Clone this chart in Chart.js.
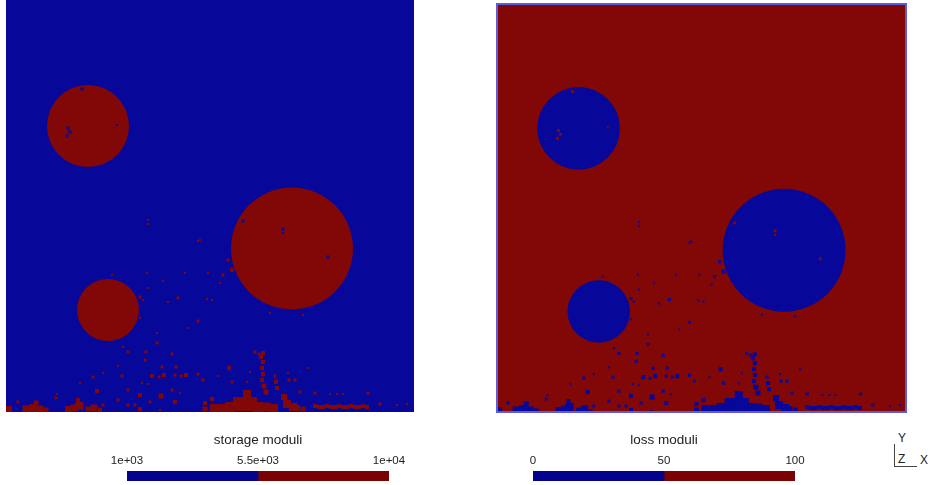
<!DOCTYPE html>
<html>
<head>
<meta charset="utf-8">
<script src="https://cdn.jsdelivr.net/npm/chart.js@4"></script>
<style>
  body { margin: 0; background: #fff; width: 930px; height: 485px; position: relative; overflow: hidden;
         font-family: "Liberation Sans", Arial, sans-serif; }
  .box { position: absolute; }
  .triad { position: absolute; font-size: 12px; color: #222; }
  .tline { position: absolute; background: #444; }
</style>
</head>
<body>
<div class="box" style="left:6px; top:0px; width:408px; height:412px;"><canvas id="storageField"></canvas></div>
<div class="box" style="left:496px; top:3px; width:411px; height:410px;"><canvas id="lossField"></canvas></div>
<div class="box" style="left:77px; top:425px; width:362px; height:56px;"><canvas id="storageBar"></canvas></div>
<div class="box" style="left:483px; top:425px; width:362px; height:56px;"><canvas id="lossBar"></canvas></div>

<div class="triad" style="left:898px; top:431px;">Y</div>
<div class="triad" style="left:898px; top:452px;">Z</div>
<div class="triad" style="left:920px; top:453px;">X</div>
<div class="tline" style="left:894px; top:444px; width:1px; height:22px;"></div>
<div class="tline" style="left:894px; top:466px; width:23px; height:1px;"></div>

<script>
// simulation domain (same for both fields)
var domainX = [0, 408];
var domainY = [0, 412];

// circular inclusions: centre and radius in domain units
var inclusionX = [82, 286, 102];
var inclusionY = [286, 163.5, 102];
var inclusionR = [41, 61, 31];

// small inclusion-phase patches [x, y, side]
var inclusionSpecks = [
  [3,3,6], [20,3,7], [27,4,8], [34,3,7], [40,2,5], [30,9,5],
  [62,3,6], [68,4,7], [73,6,8], [72,12,4], [82,3,5], [88,4,7], [94,2,4],
  [50,14,3], [97,7,3], [91,21,4], [87,35,3], [97,39,2], [74,29,2], [51,18,2], [12,10,3],
  [117,65,2], [122,60,3], [139,52,3], [140,60,3], [151,69,3], [166,58,3], [170,45,3],
  [156,45,3], [112,46,2], [116,36,3], [146,36,4], [153,35,3], [158,37,4], [169,37,3],
  [175,36,3], [180,37,4], [192,38,3], [197,32,3], [136,29,2], [142,28,2], [122,22,3],
  [134,17,4], [155,16,5], [166,22,3], [174,19,2], [112,12,3], [122,7,3], [129,7,3],
  [134,3,4], [144,10,3], [154,2,2], [169,10,4], [199,3,5], [199,9,4],
  [208,4,8], [216,4,8], [224,5,10], [234,8,14], [244,8,14], [252,5,10], [260,5,9], [268,4,8], [241,18,8],
  [255,55,4], [253,58,3], [257,50,4], [256,44,4], [257,38,4], [256,32,4], [258,26,5], [260,20,5],
  [257,59,4], [249,60,3], [269,36,3], [270,30,4], [271,24,4], [278,15,6], [281,8,8], [287,5,8],
  [206,13,4], [283,32,3], [289,32,3], [282,39,2], [223,44,4], [212,36,2], [226,30,3],
  [241,30,2], [244,40,2], [291,4,6], [297,3,5], [294,20,3], [302,44,2],
  [309,6,4], [313,5,4], [317,5,4], [321,6,4], [325,5,4], [329,5,4], [333,6,4], [337,5,4],
  [341,5,4], [345,6,4], [349,5,4], [353,5,4], [357,6,4], [361,5,4],
  [309,19,3], [324,18,2], [331,18,2], [337,18,2], [362,19,3], [374,8,3], [391,7,2], [401,8,2],
  [142,192,2], [142,188,2], [192,171,2], [141,139,2], [142,124,2], [157,131,2], [179,139,2],
  [202,139,2], [217,137,3], [214,129,2], [134,115,3], [137,112,2], [172,114,3], [162,110,2],
  [201,113,2], [206,112,2], [222,152,3], [226,142,4], [134,94,2], [192,91,3], [182,84,2],
  [151,79,2], [264,99,2], [297,97,2], [194,172,2], [106,137,2]
];

// matrix-phase holes inside the inclusions [x, y, side]
var matrixSpecks = [
  [76,323,3], [62,284,3], [64,280,3], [61,276,3], [111,287,2],
  [237,191,3], [277,183,3], [277,179,2], [322,155,3]
];

// colour bars
var storageRange = [1000, 10000];
var storageTicks = [1000, 5500, 10000];
var storageLabels = ['1e+03', '5.5e+03', '1e+04'];
var lossRange = [0, 100];
var lossTicks = [0, 50, 100];
var lossLabels = ['0', '50', '100'];

var BLUE = '#07079a';
var RED = '#820707';
var BAR_BLUE = '#03038d';
var BAR_RED = '#7a0202';
var FONT = '"Liberation Sans", Arial, sans-serif';

function unitPx(chart, v) {
  var s = chart.scales.x;
  return s.getPixelForValue(v) - s.getPixelForValue(0);
}

function makeField(id, matrixColor, inclusionColor, border) {
  var circles = inclusionX.map(function(x, i) {
    return { x: x, y: inclusionY[i], rad: inclusionR[i] };
  });
  var toPts = function(list) {
    return list.map(function(p) { return { x: p[0], y: p[1], side: p[2] }; });
  };
  var rectRadius = function(ctx) {
    return ctx.raw ? unitPx(ctx.chart, ctx.raw.side) / Math.SQRT2 : 0;
  };

  var bgPlugin = {
    id: 'bg',
    beforeDatasetsDraw: function(chart) {
      var a = chart.chartArea, c = chart.ctx;
      c.save();
      c.fillStyle = matrixColor;
      c.fillRect(a.left, a.top, a.width, a.height);
      c.restore();
    },
    afterDraw: function(chart) {
      if (!border) return;
      var a = chart.chartArea, c = chart.ctx;
      c.save();
      c.strokeStyle = '#5c5cd8';
      c.lineWidth = 2;
      c.strokeRect(a.left + 1, a.top + 1, a.width - 2, a.height - 2);
      c.restore();
    }
  };

  return new Chart(document.getElementById(id), {
    type: 'scatter',
    data: {
      datasets: [
        { data: toPts(matrixSpecks), backgroundColor: matrixColor, pointStyle: 'rect',
          pointRadius: rectRadius, pointBorderWidth: 0 },
        { data: toPts(inclusionSpecks), backgroundColor: inclusionColor, pointStyle: 'rect',
          pointRadius: rectRadius, pointBorderWidth: 0 },
        { data: circles, backgroundColor: inclusionColor, pointStyle: 'circle',
          pointRadius: function(ctx) { return ctx.raw ? unitPx(ctx.chart, ctx.raw.rad) : 0; },
          pointBorderWidth: 0 }
      ]
    },
    options: {
      responsive: true,
      maintainAspectRatio: false,
      animation: false,
      events: [],
      layout: { padding: 0 },
      plugins: { legend: { display: false }, tooltip: { enabled: false } },
      scales: {
        x: { type: 'linear', min: domainX[0], max: domainX[1], display: false },
        y: { type: 'linear', min: domainY[0], max: domainY[1], display: false }
      }
    },
    plugins: [bgPlugin]
  });
}

function makeBar(id, title, range, ticks, labels) {
  var mid = (range[0] + range[1]) / 2;
  return new Chart(document.getElementById(id), {
    type: 'bar',
    data: {
      labels: [''],
      datasets: [
        { data: [[range[0], mid]], backgroundColor: BAR_BLUE },
        { data: [[mid, range[1]]], backgroundColor: BAR_RED }
      ]
    },
    options: {
      indexAxis: 'y',
      responsive: true,
      maintainAspectRatio: false,
      animation: false,
      events: [],
      grouped: false,
      categoryPercentage: 1,
      barPercentage: 1,
      layout: { padding: { left: 50, right: 50, top: 7, bottom: 0 } },
      plugins: {
        legend: { display: false },
        tooltip: { enabled: false },
        title: {
          display: true, text: title, color: '#222', padding: { top: 0, bottom: 3 },
          font: { family: FONT, size: 13.5, weight: 'normal' }
        }
      },
      scales: {
        x: {
          type: 'linear', position: 'top', min: range[0], max: range[1],
          grid: { display: false, drawTicks: false }, border: { display: false },
          afterBuildTicks: function(axis) {
            axis.ticks = ticks.map(function(v) { return { value: v }; });
          },
          ticks: {
            color: '#222', padding: 3, maxRotation: 0, autoSkip: false,
            font: { family: FONT, size: 11.5 },
            callback: function(v, i) { return labels[i]; }
          }
        },
        y: { display: false }
      }
    }
  });
}

makeField('storageField', BLUE, RED, false);
makeField('lossField', RED, BLUE, true);
makeBar('storageBar', 'storage moduli', storageRange, storageTicks, storageLabels);
makeBar('lossBar', 'loss moduli', lossRange, lossTicks, lossLabels);
</script>
</body>
</html>
